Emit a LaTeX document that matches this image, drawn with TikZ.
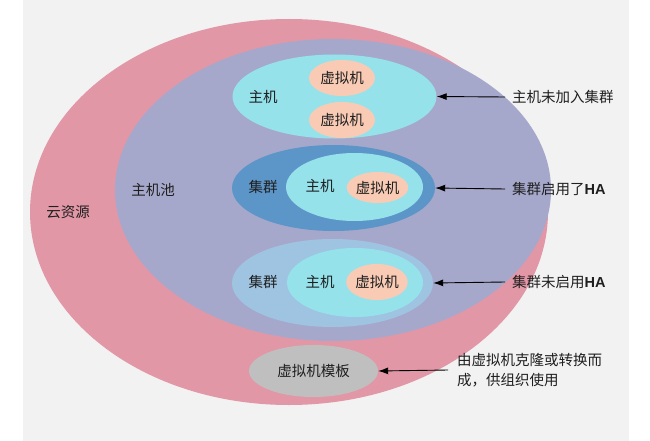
\documentclass[tikz,border=0pt]{standalone}
\usepackage{fontspec}
\setmainfont{Noto Sans CJK SC}
\newfontfamily\hafont{Liberation Sans}
\usetikzlibrary{arrows.meta,shapes.geometric}

\definecolor{cloudpink}{HTML}{E297A7}
\definecolor{poolpurple}{HTML}{A6A8CB}
\definecolor{hostcyan}{HTML}{96E2EB}
\definecolor{vmpeach}{HTML}{F9CBB5}
\definecolor{hablue}{HTML}{5C95C8}
\definecolor{nohablue}{HTML}{9EC4E2}
\definecolor{tplgray}{HTML}{BFBFBF}
\definecolor{paper}{HTML}{F2F2F2}

\tikzset{
  blob/.style={ellipse,inner sep=0pt},
  lbl/.style={font=\fontsize{14.5}{17}\selectfont,text=black!88,inner sep=0pt},
  vm/.style={blob,lbl,fill=vmpeach,minimum width=#1,minimum height=36pt},
  note/.style={lbl,anchor=west,inner xsep=7pt,align=left},
  pointer/.style={-{Latex[length=10pt,width=7pt]},line width=0.9pt}
}

\begin{document}
\begin{tikzpicture}[x=1pt,y=-1pt]
  \useasboundingbox (0,0) rectangle (650,441);
  \fill[paper] (23,0) rectangle (629,441);

  \node[blob,fill=cloudpink,minimum width=518pt,minimum height=386pt] (cloud) at (289,212) {};
  \node[blob,fill=poolpurple,minimum width=436pt,minimum height=302pt] (pool) at (333,190) {};
  \node[lbl] (cloudlbl) at (68,212) {云资源};
  \node[lbl] (poollbl) at (153,190) {主机池};

  % host outside any cluster
  \node[blob,fill=hostcyan,minimum width=204pt,minimum height=84pt] (host) at (334.5,96.5) {};
  \node[lbl] (hostlbl) at (263,97) {主机};
  \node[vm=66pt] (vma) at (342,78) {虚拟机};
  \node[vm=66pt] (vmb) at (342,120) {虚拟机};

  % cluster with HA
  \node[blob,fill=hablue,minimum width=203pt,minimum height=86pt] (hacl) at (333.5,188) {};
  \node[blob,fill=hostcyan,minimum width=137pt,minimum height=68pt] (hahost) at (354.5,187) {};
  \node[vm=57pt,minimum height=31pt] (havm) at (377.5,187.5) {虚拟机};
  \node[lbl] (hacllbl) at (263,187) {集群};
  \node[lbl] (hahostlbl) at (320,186) {主机};

  % cluster without HA
  \node[blob,fill=nohablue,minimum width=201pt,minimum height=88pt] (nohacl) at (332.5,283) {};
  \node[blob,fill=hostcyan,minimum width=136pt,minimum height=69pt] (nohahost) at (355,282.5) {};
  \node[vm=56pt] (nohavm) at (377,282) {虚拟机};
  \node[lbl] (nohacllbl) at (263,282) {集群};
  \node[lbl] (nohahostlbl) at (320,282) {主机};

  \node[blob,lbl,fill=tplgray,minimum width=129pt,minimum height=52pt] (tpl) at (313.5,371) {虚拟机模板};

  \node[note] (note1) at (505,97) {主机未加入集群};
  \node[note] (note2) at (505,189) {集群启用了{\hafont\bfseries HA}};
  \node[note] (note3) at (505,282) {集群未启用{\hafont\bfseries HA}};
  \node[note,inner xsep=9pt,font=\fontsize{14.5}{20}\selectfont] (note4) at (448,370) {由虚拟机克隆或转换而\\成，供组织使用};

  \foreach \a/\b in {note1/host,note2/hacl,note3/nohacl,note4/tpl}
    \draw[pointer] (\a.west) -- (\b.east);
\end{tikzpicture}
\end{document}
